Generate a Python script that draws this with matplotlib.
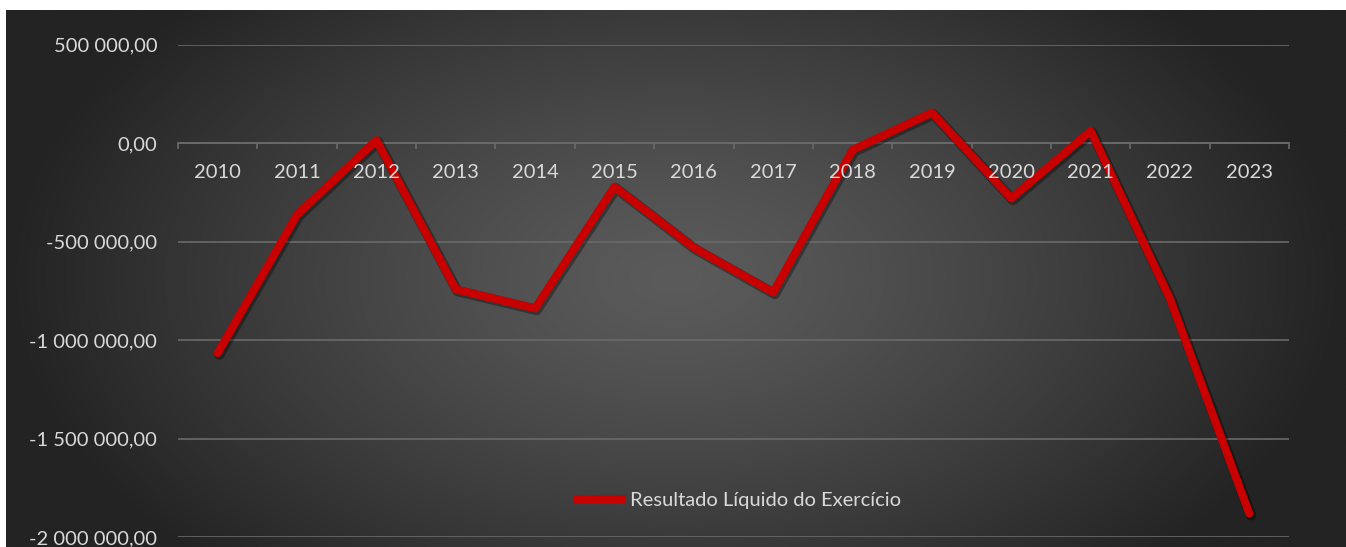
import numpy as np
import matplotlib
matplotlib.use("Agg")
import matplotlib.pyplot as plt
from matplotlib.ticker import FixedLocator, FuncFormatter, NullFormatter
from matplotlib.lines import Line2D
import matplotlib.patheffects as pe

# Net result per fiscal year
years = ["2010", "2011", "2012", "2013", "2014", "2015", "2016",
         "2017", "2018", "2019", "2020", "2021", "2022", "2023"]
resultado = [-1065000, -363000, 15000, -742000, -838000, -221000, -530000,
             -757000, -34000, 155000, -280000, 62000, -790000, -1880000]
series_name = "Resultado Líquido do Exercício"
y_ticks = [500000, 0, -500000, -1000000, -1500000, -2000000]

W, H = 1346, 547
DPI = 100
TEXT = "#d9d9d9"
GRID = "#6a6a6a"
RED = "#c80000"

plt.rcParams["font.family"] = ["Lato", "DejaVu Sans"]

fig = plt.figure(figsize=(W / DPI, H / DPI), dpi=DPI, facecolor="white")

# dark panel with a soft radial gradient
bg = fig.add_axes([6 / W, 0, (W - 6) / W, (H - 10) / H])
bg.set_axis_off()
nx, ny = 400, 200
gx, gy = np.meshgrid(np.linspace(-1, 1, nx), np.linspace(-1, 1, ny))
r = np.clip(np.sqrt(gx ** 2 + (gy / 1.5) ** 2), 0, 1)
c0 = np.array([0x5b, 0x5b, 0x5b]) / 255
c1 = np.array([0x23, 0x23, 0x23]) / 255
t = r[..., None] ** 1.25
img = c0 * (1 - t) + c1 * t
bg.imshow(img, aspect="auto", extent=[0, 1, 0, 1], interpolation="bicubic")
bg.set_xlim(0, 1)
bg.set_ylim(0, 1)

# plot area
left, right = 178 / W, 1289 / W
top_px, bot_px = 44.7, 537.3
ax = fig.add_axes([left, (H - bot_px) / H, right - left, (bot_px - top_px) / H])
ax.set_facecolor("none")
n = len(years)
x = np.arange(n)
ax.set_xlim(-0.5, n - 0.5)
ax.set_ylim(-2000000, 500000)

for s in ["top", "right", "left"]:
    ax.spines[s].set_visible(False)
ax.spines["bottom"].set_position(("data", 0))
ax.spines["bottom"].set_color(GRID)
ax.spines["bottom"].set_linewidth(1.2)

ax.set_yticks(y_ticks)
ax.yaxis.set_major_formatter(FuncFormatter(
    lambda v, p: f"{v:,.2f}".replace(",", " ").replace(".", ",")))
ax.tick_params(axis="y", length=0, pad=15, labelcolor=TEXT, labelsize=14.5)
ax.yaxis.grid(True, color=GRID, linewidth=1.2)
ax.set_axisbelow(True)

# category boundaries as small ticks on the zero axis
ax.set_xticks(x)
ax.xaxis.set_major_formatter(NullFormatter())
ax.xaxis.set_minor_locator(FixedLocator(np.arange(-0.5, n, 1.0)))
ax.tick_params(axis="x", which="major", length=0)
ax.tick_params(axis="x", which="minor", length=4, width=1.2,
               color=GRID, direction="out")

ax.plot(x, resultado, color=RED, linewidth=5.8, solid_capstyle="round",
        solid_joinstyle="round", zorder=5,
        path_effects=[pe.SimpleLineShadow(offset=(1.2, -1.2), shadow_color="black",
                                          alpha=0.35, linewidth=7.5),
                      pe.Normal()])

# year labels sit on top of the line
for xi, label in zip(x, years):
    ax.annotate(label, xy=(xi, 0), xytext=(0, -29.5), textcoords="offset pixels",
                ha="center", va="center", color=TEXT, fontsize=14.5, zorder=10,
                annotation_clip=False)

handle = Line2D([], [], color=RED, linewidth=5.8, solid_capstyle="butt")
leg = fig.legend([handle], [series_name], loc="center",
                 bbox_to_anchor=(737.5 / W, 1 - 500 / H), frameon=False,
                 fontsize=14.5, handlelength=2.6, handletextpad=0.2,
                 labelcolor=TEXT)

fig.savefig("out.png", dpi=DPI, facecolor="white")
